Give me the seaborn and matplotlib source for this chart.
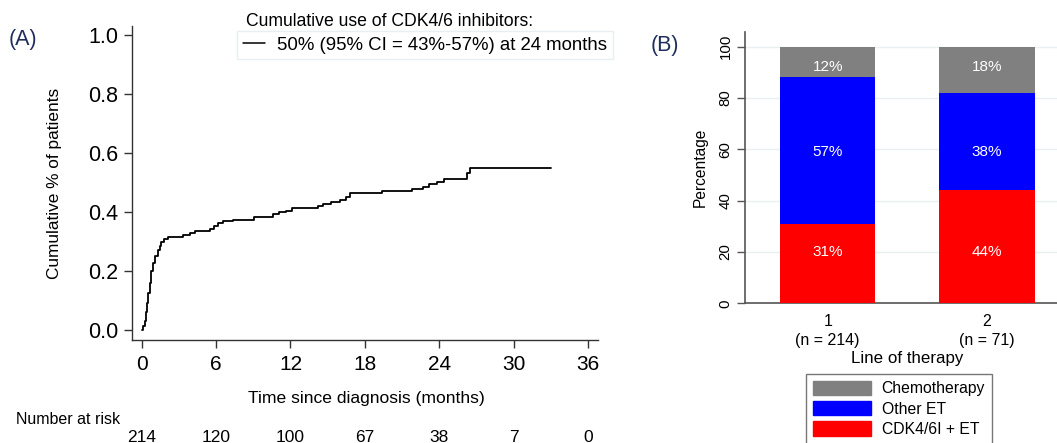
import matplotlib
matplotlib.use("Agg")
import matplotlib.pyplot as plt
import matplotlib.transforms as mtransforms
from matplotlib.patches import Patch
from matplotlib.lines import Line2D
import seaborn as sns
import pandas as pd
import numpy as np

sns.set_style("white")
plt.rcParams['font.family'] = ['Liberation Sans', 'DejaVu Sans']
plt.rcParams['text.color'] = 'black'
plt.rcParams['axes.labelcolor'] = 'black'
plt.rcParams['xtick.color'] = 'black'
plt.rcParams['ytick.color'] = 'black'

# ---- data: panel A (cumulative incidence, step curve) ----
km_time = [0.0, 0.1, 0.25, 0.35, 0.45, 0.55, 0.65, 0.8, 0.95, 1.1, 1.3, 1.45, 1.6, 1.8, 2.1,
           3.3, 3.9, 4.3, 5.5, 5.8, 6.2, 6.6, 7.4, 9.1, 10.6, 11.1, 11.6, 12.1, 14.2, 14.6,
           15.3, 16.0, 16.5, 16.8, 19.4, 21.8, 22.7, 23.2, 23.8, 24.4, 26.2, 26.5, 33.0]
km_cum = [0.0, 0.015, 0.03, 0.06, 0.09, 0.125, 0.16, 0.2, 0.228, 0.25, 0.27, 0.285, 0.297, 0.307, 0.314,
          0.322, 0.329, 0.336, 0.343, 0.352, 0.363, 0.37, 0.374, 0.383, 0.392, 0.399, 0.404, 0.415, 0.42, 0.426,
          0.433, 0.44, 0.45, 0.466, 0.472, 0.478, 0.486, 0.495, 0.503, 0.512, 0.533, 0.548, 0.548]
risk_months = [0, 6, 12, 18, 24, 30, 36]
at_risk = [214, 120, 100, 67, 38, 7, 0]
legend_a_title = "Cumulative use of CDK4/6 inhibitors:"
legend_a_label = "50% (95% CI = 43%-57%) at 24 months"

# ---- data: panel B (stacked bars) ----
lines = ["1\n(n = 214)", "2\n(n = 71)"]
cdk_et = [31, 44]
other_et = [57, 38]
chemo = [12, 18]
label_rows = [20, 59, 92]   # height where the % labels sit

NAVY = "#1f2d5c"
C_CHEMO, C_OTHER, C_CDK = "#808080", "#0000ff", "#ff0000"
W, H = 1057, 443

fig = plt.figure(figsize=(10.57, 4.43), dpi=100)

# ================= Panel A =================
axA = fig.add_axes([132 / W, (H - 340) / H, 466 / W, 314 / H])
dfA = pd.DataFrame({"time": km_time, "cum": km_cum})
sns.lineplot(data=dfA, x="time", y="cum", ax=axA, drawstyle="steps-post",
             estimator=None, sort=False, color="black", lw=1.3)
axA.set_xlim(-0.77, 36.78)
axA.set_ylim(-0.034, 1.0305)
axA.set_xticks(risk_months)
yt = [0.0, 0.2, 0.4, 0.6, 0.8, 1.0]
axA.set_yticks(yt)
axA.set_yticklabels([f"{v:.1f}" for v in yt])
axA.tick_params(axis="y", labelsize=15.5, length=6, width=1, color="#333333",
                labelcolor="black", direction="out", pad=4, left=True)
axA.tick_params(axis="x", labelsize=15, length=6, width=1, color="#333333",
                labelcolor="black", direction="out", pad=5, bottom=True)
for s in ["top", "right"]:
    axA.spines[s].set_visible(False)
for s in ["left", "bottom"]:
    axA.spines[s].set_color("#333333")
    axA.spines[s].set_linewidth(1)
axA.set_xlabel("")
axA.set_ylabel("Cumulative % of patients", fontsize=12.4)
axA.yaxis.set_label_coords((62 - 132) / 466, 0.5)

fig.text(366 / W, 1 - 398 / H, "Time since diagnosis (months)", fontsize=12.6,
         ha="center", va="center")
fig.text(16 / W, 1 - 420 / H, "Number at risk", fontsize=11.5, ha="left", va="center")
trans = mtransforms.blended_transform_factory(axA.transData, fig.transFigure)
for m, n in zip(risk_months, at_risk):
    axA.text(m, 1 - 442 / H, str(n), transform=trans, ha="center", va="baseline",
             fontsize=12.5, clip_on=False)

fig.text(246 / W, 1 - 22 / H, legend_a_title, fontsize=12.7, ha="left", va="center")
legA = fig.legend(handles=[Line2D([], [], color="black", lw=1.1)], labels=[legend_a_label],
                  loc="upper left", bbox_to_anchor=(237 / W, 1 - 31 / H),
                  fontsize=13.4, frameon=True, fancybox=False, borderaxespad=0,
                  handlelength=1.2, handletextpad=0.65, borderpad=0.3)
legA.get_frame().set_edgecolor("#e3ecf0")
legA.get_frame().set_linewidth(1)

fig.text(9 / W, 1 - 40 / H, "(A)", fontsize=15.5, color=NAVY, ha="left", va="center")

# ================= Panel B =================
axB = fig.add_axes([745 / W, 139.7 / H, 324.7 / W, 271.6 / H])
cum_red = np.array(cdk_et)
cum_blue = cum_red + np.array(other_et)
cum_grey = cum_blue + np.array(chemo)
dfB = pd.DataFrame({"line": lines, "grey": cum_grey, "blue": cum_blue, "red": cum_red})
for col, c in [("grey", C_CHEMO), ("blue", C_OTHER), ("red", C_CDK)]:
    sns.barplot(data=dfB, x="line", y=col, ax=axB, color=c, width=0.6,
                saturation=1, linewidth=0, zorder=3)
axB.set_xlim(-0.519, 1.519)
axB.set_ylim(0, 105.8)
axB.set_yticks([0, 20, 40, 60, 80, 100])
axB.yaxis.grid(True, color="#e8f0f2", lw=1, zorder=0)
axB.set_axisbelow(True)
axB.tick_params(axis="y", labelsize=10.8, length=6, width=1, color="#555555",
                labelcolor="black", direction="out", left=True, pad=3)
for t in axB.get_yticklabels():
    t.set_rotation(90)
    t.set_va("center")
axB.tick_params(axis="x", labelsize=11.5, length=0, pad=8, labelcolor="black")
for t in axB.get_xticklabels():
    t.set_linespacing(1.3)
for s in ["top", "right"]:
    axB.spines[s].set_visible(False)
for s in ["left", "bottom"]:
    axB.spines[s].set_color("#555555")
    axB.spines[s].set_linewidth(1.2)
axB.set_ylabel("Percentage", fontsize=11.2, labelpad=8)
axB.set_xlabel("")
fig.text(907 / W, 1 - 358 / H, "Line of therapy", fontsize=12.2, ha="center", va="center")

for i in range(len(lines)):
    for val, yy in zip([cdk_et[i], other_et[i], chemo[i]], label_rows):
        axB.text(i, yy, f"{val}%", color="white", ha="center", va="center",
                 fontsize=11, zorder=5)

legB = fig.legend(handles=[Patch(color=C_CHEMO), Patch(color=C_OTHER), Patch(color=C_CDK)],
                  labels=["Chemotherapy", "Other ET", "CDK4/6I + ET"],
                  loc="upper left", bbox_to_anchor=(806 / W, 1 - 374 / H),
                  fontsize=11.3, frameon=True, fancybox=False, borderaxespad=0,
                  handlelength=3.75, handleheight=1.05, handletextpad=0.65,
                  labelspacing=0.3, borderpad=0.42)
legB.get_frame().set_edgecolor("#555555")
legB.get_frame().set_linewidth(1)

fig.text(651 / W, 1 - 45 / H, "(B)", fontsize=15.5, color=NAVY, ha="left", va="center")

fig.savefig("out.png", dpi=100)
